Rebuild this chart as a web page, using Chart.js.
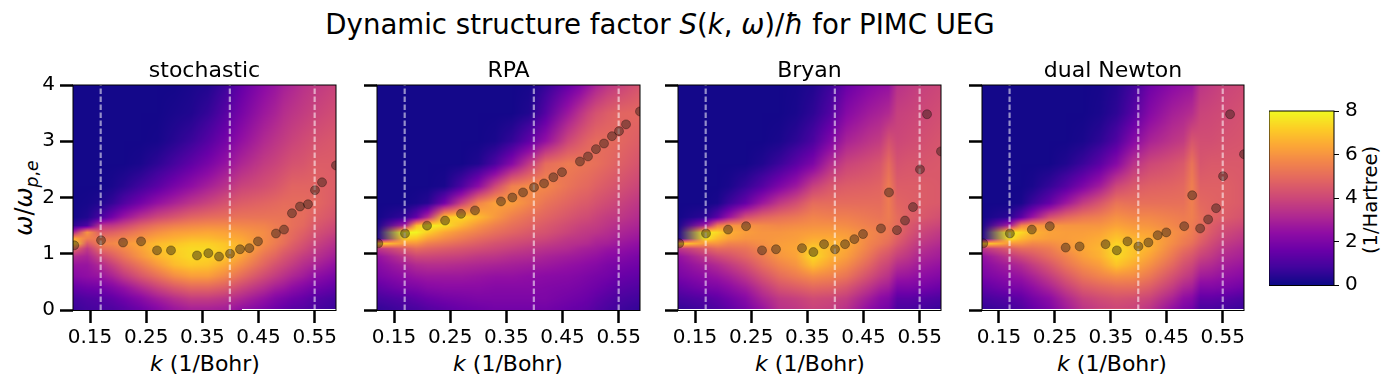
<!DOCTYPE html>
<html>
<head>
<meta charset="utf-8">
<script src="https://cdn.jsdelivr.net/npm/chart.js@4"></script>
<style>
  html, body { margin: 0; padding: 0; background: #fff; }
  body { width: 1391px; height: 386px; position: relative; overflow: hidden; font-family: "DejaVu Sans", sans-serif; color: #000; }
  canvas { position: absolute; }
  .txt { position: absolute; white-space: nowrap; line-height: 1; }
  .rot { transform: translate(-50%, -50%) rotate(-90deg); }
  .mid { transform: translate(-50%, -50%); }
  sub { font-size: 72%; line-height: 0; }
</style>
</head>
<body>
<div class="txt mid" style="left:660px;top:25px;font-size:27.6px">Dynamic structure factor <i>S</i>(<i>k</i>, <i>ω</i>)/<i>ħ</i> for PIMC UEG</div>
<div class="txt rot" style="left:24px;top:198px;font-size:24px"><i>ω</i>/<i>ω</i><sub><i>p</i>,<i>e</i></sub></div>
<div class="txt mid" style="left:205px;top:364px;font-size:22px"><i>k</i> (1/Bohr)</div>
<div class="txt mid" style="left:508px;top:364px;font-size:22px"><i>k</i> (1/Bohr)</div>
<div class="txt mid" style="left:810px;top:364px;font-size:22px"><i>k</i> (1/Bohr)</div>
<div class="txt mid" style="left:1112px;top:364px;font-size:22px"><i>k</i> (1/Bohr)</div>
<div class="txt rot" style="left:1371px;top:200px;font-size:19.5px">(1/Hartree)</div>
<canvas id="c0" width="345" height="327" style="left:0;top:59px"></canvas>
<canvas id="c1" width="345" height="327" style="left:304px;top:59px"></canvas>
<canvas id="c2" width="345" height="327" style="left:605px;top:59px"></canvas>
<canvas id="c3" width="345" height="327" style="left:909px;top:59px"></canvas>
<canvas id="cbar" width="120" height="217" style="left:1269px;top:93px"></canvas>
<script>
const panelTitles = ['stochastic', 'RPA', 'Bryan', 'dual Newton'];
const kTicks = [0.15, 0.25, 0.35, 0.45, 0.55];
const omegaTicks = [0, 1, 2, 3, 4];
const cbarTicks = [0, 2, 4, 6, 8];
const dashedK = [0.169, 0.399, 0.55];

const kPeaks = [0.122, 0.1696, 0.2088, 0.2409, 0.2693, 0.2942, 0.3405, 0.3607, 0.3797, 0.3993, 0.4171, 0.4337, 0.4491, 0.4811, 0.4954, 0.5096, 0.5239, 0.5381, 0.5506, 0.5631, 0.588];
const peakStochastic = [1.15, 1.24, 1.20, 1.22, 1.06, 1.06, 0.97, 1.01, 0.95, 1.00, 1.08, 1.10, 1.22, 1.36, 1.43, 1.72, 1.84, 1.88, 2.13, 2.27, 2.57];
const peakRPA = [1.185, 1.36, 1.50, 1.59, 1.71, 1.77, 1.93, 2.00, 2.09, 2.18, 2.25, 2.36, 2.45, 2.64, 2.73, 2.86, 2.96, 3.09, 3.18, 3.30, 3.53];
const peakBryan = [1.185, 1.36, 1.43, 1.49, 1.06, 1.08, 1.10, 1.03, 1.17, 1.08, 1.17, 1.26, 1.35, 1.45, 2.09, 1.42, 1.59, 1.83, 2.50, 3.48, 2.82];
const peakDual = [1.185, 1.36, 1.43, 1.49, 1.11, 1.13, 1.17, 1.06, 1.22, 1.13, 1.20, 1.33, 1.38, 1.49, 2.04, 1.45, 1.61, 1.81, 2.38, 3.48, 2.77];

// heatmap samples (rows go top to bottom)
const omegaGrid = [4, 3.5, 3, 2.6, 2.2, 1.9, 1.65, 1.5, 1.38, 1.27, 1.18, 1.09, 0.95, 0.8, 0.6, 0.4, 0.2, 0.03, 0];
const kGridWide = [0.12, 0.145, 0.17, 0.19, 0.21, 0.24, 0.27, 0.30, 0.33, 0.36, 0.39, 0.42, 0.46, 0.48, 0.495, 0.51, 0.53, 0.55, 0.59];
const kGrid = [0.12, 0.17, 0.19, 0.21, 0.24, 0.27, 0.30, 0.33, 0.36, 0.39, 0.42, 0.46, 0.48, 0.495, 0.51, 0.53, 0.55, 0.59];
// the image stops a pixel short of the axis from this k on (null: it does not)
const bottomGapFromK = [0.42, null, 0.12, 0.12];

const heatStochastic = [
  [.1,.1,.1,.1,.1,.1,.1,.1,.2,.3,.7,1.5,2.3,2.6,2.9,3.1,3.4,3.6,3.9],
  [.1,.1,.1,.1,.1,.1,.1,.2,.3,.6,1.2,1.9,2.7,3,3.3,3.5,3.7,3.9,4.2],
  [.1,.1,.1,.1,.1,.1,.15,.4,.7,1.2,1.8,2.5,3.2,3.5,3.7,3.9,4.1,4.3,4.5],
  [.1,.1,.1,.1,.1,.2,.5,.9,1.4,1.9,2.5,3.1,3.7,3.9,4.1,4.3,4.4,4.6,4.6],
  [.1,.1,.1,.2,.4,.8,1.3,1.9,2.4,2.9,3.4,3.9,4.2,4.4,4.6,4.8,4.8,4.8,4.6],
  [.1,.15,.3,.6,1.1,1.8,2.5,3,3.5,3.9,4.3,4.6,4.8,4.9,5,5,5,4.9,4.5],
  [.1,.3,1,1.8,2.6,3.4,4,4.4,4.8,5,5.1,5.2,5.2,5.2,5.2,5.1,5,4.7,4.3],
  [.5,1,3.5,3.6,4,4.7,5.2,5.5,5.7,5.8,5.8,5.7,5.6,5.4,5.3,5.1,4.9,4.5,4],
  [3,6,4.5,4.7,5,5.5,5.9,6.2,6.3,6.4,6.3,6.1,5.8,5.5,5.2,5,4.7,4.3,3.8],
  [6.5,5.5,5.3,5.4,5.6,6,6.4,6.6,6.8,6.8,6.6,6.4,5.8,5.5,5.2,4.9,4.5,4.1,3.5],
  [7.5,4.5,5.6,5.7,6,6.4,6.8,7,7.2,7.2,7,6.6,5.8,5.4,5.1,4.7,4.3,3.9,3.3],
  [5,3.6,5,5.3,5.7,6.3,6.9,7.2,7.4,7.4,7.1,6.6,5.6,5.2,4.8,4.5,4.1,3.7,3.1],
  [3.2,3,4,4.6,5.2,6,6.7,7.1,7.4,7.3,7,6.3,5.2,4.8,4.4,4.1,3.7,3.4,2.8],
  [2.6,2.6,3.2,3.8,4.5,5.3,6.1,6.8,7.1,7,6.5,5.8,4.8,4.3,4,3.7,3.3,3,2.4],
  [2.2,2.4,2.6,3,3.6,4.4,5.1,5.8,6.2,6.2,5.7,5,4.1,3.7,3.4,3.1,2.8,2.4,1.9],
  [1.5,1.7,1.8,2.1,2.5,3.2,3.9,4.5,4.9,4.9,4.6,4,3.3,2.9,2.7,2.4,2.1,1.8,1.4],
  [.9,1.1,1.2,1.4,1.7,2.2,2.8,3.3,3.7,3.7,3.5,3.1,2.5,2.1,1.9,1.7,1.5,1.2,.9],
  [.7,.9,1,1.1,1.3,1.7,2.2,2.7,3,3,2.9,2.5,2,1.7,1.5,1.3,1.2,1,.7],
  [.7,.9,1,1.1,1.3,1.7,2.2,2.7,3,3,2.9,2.5,2,1.7,1.5,1.3,1.2,1,.7]
];
const heatRPA = [
  [.1,.1,.1,.1,.1,.1,.1,.1,.1,.15,.6,1.5,2,2.5,3,3.5,3.8,4.4],
  [.1,.1,.1,.1,.1,.1,.1,.1,.1,.3,1.2,2.7,3.4,3.9,4.3,4.6,4.8,4.9],
  [.1,.1,.1,.1,.1,.1,.1,.2,.6,1.4,2.5,4,4.5,4.8,5,5,4.9,4.6],
  [.1,.1,.1,.1,.1,.1,.3,1,2.2,3.6,5,5.4,5.3,5.2,5.1,4.9,4.7,4.3],
  [.1,.1,.1,.1,.2,1,2.3,4,5.5,5.8,5.7,5.2,5,4.9,4.7,4.5,4.3,3.9],
  [.1,.1,.2,.4,1.8,3.8,5.6,6.3,6.2,5.7,5.2,4.8,4.6,4.5,4.3,4.1,3.9,3.5],
  [.1,.6,1.5,3.2,7,7.4,6.8,6.1,5.5,5.1,4.8,4.4,4.2,4.1,3.9,3.7,3.6,3.2],
  [.2,3,6.8,7.9,7.5,6.7,6,5.5,5.1,4.8,4.5,4.1,3.9,3.8,3.7,3.5,3.3,3],
  [.3,8,7.9,7.2,6.4,5.9,5.5,5.1,4.8,4.5,4.3,3.9,3.7,3.6,3.5,3.3,3.1,2.8],
  [.4,7.2,7,6.3,5.8,5.4,5,4.7,4.4,4.2,4,3.6,3.5,3.4,3.2,3.1,2.9,2.6],
  [7.5,6,6,5.5,5.2,4.9,4.6,4.3,4.1,3.9,3.7,3.4,3.3,3.2,3,2.9,2.7,2.4],
  [3.5,4.6,5,4.8,4.6,4.4,4.2,4,3.8,3.6,3.4,3.2,3,2.9,2.8,2.6,2.5,2.2],
  [2.5,3.6,4,4,3.9,3.8,3.6,3.5,3.3,3.2,3,2.8,2.7,2.6,2.5,2.3,2.2,1.9],
  [2.2,2.9,3.2,3.3,3.3,3.2,3.1,3,2.9,2.8,2.7,2.5,2.4,2.3,2.2,2,1.9,1.7],
  [1.9,2.4,2.6,2.7,2.7,2.7,2.6,2.5,2.5,2.4,2.3,2.2,2.1,2,1.9,1.8,1.6,1.4],
  [1.4,1.9,2,2.2,2.3,2.3,2.3,2.2,2.2,2.2,2.1,2,1.9,1.8,1.7,1.5,1.3,1.1],
  [.9,1.2,1.4,1.6,1.8,1.9,2,2,2,2,2,1.8,1.7,1.6,1.4,1.2,1,.8],
  [.6,.9,1,1.2,1.4,1.6,1.7,1.8,1.8,1.8,1.8,1.6,1.5,1.4,1.2,1,.8,.6],
  [.6,.9,1,1.2,1.4,1.6,1.7,1.8,1.8,1.8,1.8,1.6,1.5,1.4,1.2,1,.8,.6]
];
const heatBryan = [
  [.1,.1,.1,.1,.1,.1,.1,.15,.3,.7,1.6,2.2,2.4,2.5,3.4,3.6,3.8,4],
  [.1,.1,.1,.1,.1,.1,.1,.2,.5,1.1,2.2,2.8,3,3.2,3.8,3.9,4,4.2],
  [.1,.1,.1,.1,.1,.1,.2,.5,1,2,3,3.5,3.7,4.3,4,4.1,4.2,4.4],
  [.1,.1,.1,.1,.1,.3,.7,1.3,2,3.2,3.9,4.2,4.4,5,4.3,4.4,4.4,4.5],
  [.1,.1,.1,.2,.6,1.2,2,2.7,3.8,4.4,4.6,4.7,4.8,5.4,4.6,4.6,4.6,4.5],
  [.1,.1,.2,.7,1.5,2.7,3.6,4.2,5,5,5,5,5,5.4,4.8,4.7,4.6,4.5],
  [.1,.5,1.3,2.6,4.2,4.8,5.1,5.3,5.6,5.5,5.5,5.3,5.2,5.4,5,4.7,4.5,4.2],
  [.2,3,5.4,6,6,5.8,5.7,5.8,5.9,5.9,5.8,5.5,5.4,5.3,5,4.5,4.2,3.9],
  [.3,7.8,7.4,6.6,6.2,6,6,6.1,6.2,6.2,6.1,5.7,5.5,5.3,4.9,4.4,4,3.6],
  [.4,7.6,6.8,6.3,6,6,6.1,6.2,6.5,6.5,6.3,5.7,5.4,5.2,4.7,4.2,3.8,3.4],
  [7.5,6,6,5.6,5.6,5.9,6.2,6.3,6.8,6.7,6.5,5.6,5.3,5,4.5,4,3.6,3.2],
  [3.5,4.6,5,5,5.2,5.7,6.2,6.4,7.2,6.8,6.4,5.5,5,4.7,4.2,3.8,3.4,3],
  [2.5,3.6,4,4.3,4.8,5.4,6,6.3,7.4,6.7,6.2,5.2,4.6,4.3,3.8,3.5,3.1,2.8],
  [2.2,2.9,3.2,3.6,4.2,5,5.6,6,6.9,6.3,5.8,4.8,4.2,3.9,3.3,3.1,2.8,2.5],
  [1.9,2.4,2.6,2.9,3.5,4.3,5,5.4,5.8,5.6,5.2,4.2,3.7,3.4,2.7,2.6,2.4,2.1],
  [1.4,1.9,2,2.3,2.8,3.6,4.3,4.6,4.9,4.8,4.4,3.5,3,2.8,2,2,1.9,1.6],
  [.9,1.2,1.4,1.7,2.2,3,3.6,3.8,4.1,4,3.7,2.8,2.3,2.1,1.3,1.3,1.2,1],
  [.6,.9,1.1,1.4,1.9,2.6,3.4,3.6,3.9,3.8,3.4,2.4,2,1.8,1,1,.9,.7],
  [.6,.9,1.1,1.4,1.9,2.6,3.4,3.6,3.9,3.8,3.4,2.4,2,1.8,1,1,.9,.7]
];
const heatDual = [
  [.1,.1,.1,.1,.1,.1,.1,.15,.35,.8,1.7,2.3,2.5,2.6,3.5,3.7,3.9,4.1],
  [.1,.1,.1,.1,.1,.1,.1,.2,.5,1.2,2.2,2.9,3.1,3.3,3.9,4,4.1,4.3],
  [.1,.1,.1,.1,.1,.1,.2,.5,1.1,2.2,3,3.5,3.7,4.4,4.2,4.2,4.3,4.4],
  [.1,.1,.1,.1,.1,.3,.7,1.3,2.2,3.4,4,4.3,4.5,5.2,4.4,4.5,4.5,4.5],
  [.1,.1,.1,.2,.6,1.2,2,2.8,4,4.5,4.7,4.8,4.9,5.5,4.7,4.7,4.7,4.5],
  [.1,.1,.2,.7,1.5,2.7,3.7,4.4,5.2,5.1,5.1,5.1,5.1,5.5,4.9,4.8,4.7,4.5],
  [.1,.5,1.3,2.6,4.2,4.9,5.3,5.5,5.9,5.7,5.7,5.5,5.4,5.5,5.1,4.8,4.6,4.3],
  [.2,3,5.6,6.1,6.1,6,6,6,6.3,6.1,6,5.7,5.5,5.4,5.1,4.6,4.3,4],
  [.3,7.8,7.4,6.7,6.3,6.2,6.2,6.3,6.7,6.4,6.3,5.9,5.7,5.4,5,4.5,4.1,3.7],
  [.4,7.6,6.8,6.4,6.2,6.2,6.3,6.5,7,6.7,6.5,5.9,5.5,5.3,4.8,4.3,3.9,3.5],
  [7.5,6,6,5.7,5.8,6.1,6.4,6.6,7.3,6.9,6.6,5.8,5.4,5.1,4.6,4.1,3.7,3.3],
  [3.5,4.6,5,5.1,5.4,6,6.4,6.7,7.5,7,6.6,5.6,5.1,4.8,4.3,3.9,3.5,3.1],
  [2.5,3.6,4,4.4,5,5.6,6.2,6.6,7.4,6.9,6.3,5.3,4.7,4.4,3.9,3.6,3.2,2.9],
  [2.2,2.9,3.2,3.7,4.4,5.2,5.8,6.2,7,6.5,5.9,4.9,4.3,4,3.4,3.2,2.9,2.6],
  [1.9,2.4,2.6,3,3.7,4.5,5.2,5.6,5.9,5.8,5.3,4.3,3.8,3.5,2.8,2.7,2.5,2.2],
  [1.4,1.9,2,2.4,3,3.8,4.5,4.8,5,5,4.6,3.7,3.1,2.9,2.1,2.1,2,1.7],
  [.9,1.2,1.4,1.8,2.3,3.1,3.8,4.1,4.3,4.2,3.9,3,2.4,2.2,1.4,1.4,1.3,1],
  [.6,.9,1.1,1.5,2,2.8,3.5,3.8,4,3.9,3.5,2.5,2,1.8,1,1,.9,.7],
  [.6,1.1,1.2,1.6,2.1,2.9,4.2,6.2,6,6.2,4.4,2.6,2.1,1.9,1,1,.9,.7]
];

// matplotlib plasma, every 10%
const plasma = [[13,8,135],[65,4,157],[106,0,168],[143,13,164],[177,42,144],[204,71,120],[225,100,98],[241,131,76],[252,166,54],[252,206,37],[240,249,33]];

function plasmaColor(v) {
  const t = Math.min(Math.max(v / 8, 0), 1) * (plasma.length - 1);
  const i = Math.min(Math.floor(t), plasma.length - 2);
  const f = t - i;
  return [0, 1, 2].map(c => plasma[i][c] + (plasma[i + 1][c] - plasma[i][c]) * f);
}

function findCell(grid, v) {
  // works for rising or falling grids
  const up = grid[1] > grid[0];
  let i = 0;
  while (i < grid.length - 2 && (up ? grid[i + 1] < v : grid[i + 1] > v)) i++;
  const f = (v - grid[i]) / (grid[i + 1] - grid[i]);
  return [i, Math.min(Math.max(f, 0), 1)];
}

// paints the samples through the chart's scales; colours are blended along k, values along omega
function heatPlugin(ks, values, gapFromK) {
  return {
    id: 'heat',
    beforeDatasetsDraw(chart) {
      const a = chart.chartArea;
      const x0 = Math.round(a.left), y0 = Math.round(a.top);
      const w = Math.round(a.right) - x0, h = Math.round(a.bottom) - y0;
      const off = document.createElement('canvas');
      off.width = w; off.height = h;
      const octx = off.getContext('2d');
      const img = octx.createImageData(w, h);
      for (let py = 0; py < h; py++) {
        const [r, fr] = findCell(omegaGrid, chart.scales.y.getValueForPixel(y0 + py + 0.5));
        for (let px = 0; px < w; px++) {
          const k = chart.scales.x.getValueForPixel(x0 + px + 0.5);
          if (py >= h - 1 && gapFromK !== null && k >= gapFromK) continue;
          const [c, fc] = findCell(ks, k);
          const c0 = plasmaColor(values[r][c] + (values[r + 1][c] - values[r][c]) * fr);
          const c1 = plasmaColor(values[r][c + 1] + (values[r + 1][c + 1] - values[r][c + 1]) * fr);
          const o = (py * w + px) * 4;
          for (let n = 0; n < 3; n++) img.data[o + n] = c0[n] + (c1[n] - c0[n]) * fc;
          img.data[o + 3] = 255;
        }
      }
      octx.putImageData(img, 0, 0);
      chart.ctx.drawImage(off, x0, y0);
    }
  };
}

const framePlugin = {
  id: 'frame',
  afterDatasetsDraw(chart) {
    const a = chart.chartArea, ctx = chart.ctx;
    ctx.save();
    ctx.strokeStyle = '#000';
    ctx.lineWidth = 1;
    ctx.strokeRect(a.left, a.top, a.right - a.left, a.bottom - a.top + 0.5);
    ctx.restore();
  }
};

function makePanel(i, ks, values, peaks, areaWidth) {
  const datasets = [{
    data: kPeaks.map((k, n) => ({ x: k, y: peaks[n] })),
    backgroundColor: 'rgba(45,30,20,0.45)',
    borderColor: 'rgba(0,0,0,0.3)',
    borderWidth: 1,
    pointRadius: 4.5,
    showLine: false
  }];
  dashedK.forEach(k => {
    datasets.push({
      data: [{ x: k, y: omegaTicks[0] }, { x: k, y: omegaTicks[4] }],
      showLine: true,
      borderColor: 'rgba(255,255,255,0.55)',
      borderWidth: 2.2,
      borderDash: [5.5, 2.5],
      pointRadius: 0
    });
  });
  new Chart(document.getElementById('c' + i), {
    type: 'scatter',
    data: { datasets },
    plugins: [heatPlugin(ks, values, bottomGapFromK[i]), framePlugin],
    options: {
      responsive: false,
      animation: false,
      events: [],
      devicePixelRatio: 1,
      layout: { autoPadding: false, padding: { left: 0, top: 0, right: 345 - 73 - areaWidth, bottom: 0 } },
      plugins: {
        legend: { display: false },
        tooltip: { enabled: false },
        title: {
          display: true,
          fullSize: false,
          text: panelTitles[i],
          color: '#000',
          font: { family: '"DejaVu Sans"', size: 22, weight: 'normal', lineHeight: 1 },
          padding: { top: 1.5, bottom: 2.5 }
        }
      },
      scales: {
        x: {
          type: 'linear',
          min: 0.1197,
          max: 0.588,
          afterBuildTicks(s) { s.ticks = kTicks.map(v => ({ value: v })); },
          afterFit(s) { s.height = 76; },
          grid: { drawOnChartArea: false, tickLength: 13, tickWidth: 2.5, tickColor: '#000' },
          border: { display: false },
          ticks: {
            color: '#000',
            padding: 3,
            maxRotation: 0,
            autoSkip: false,
            font: { family: '"DejaVu Sans"', size: 20 },
            callback: v => v.toFixed(2)
          }
        },
        y: {
          type: 'linear',
          min: 0,
          max: 4,
          afterBuildTicks(s) { s.ticks = omegaTicks.map(v => ({ value: v })); },
          afterFit(s) { s.width = 73; },
          grid: { drawOnChartArea: false, tickLength: 13, tickWidth: 2.5, tickColor: '#000' },
          border: { display: false },
          ticks: {
            color: '#000',
            padding: 5,
            font: { family: '"DejaVu Sans"', size: 20 },
            callback: v => (i === 0 ? String(v) : '')
          }
        }
      }
    }
  });
}

makePanel(0, kGridWide, heatStochastic, peakStochastic, 263);
makePanel(1, kGrid, heatRPA, peakRPA, 263);
makePanel(2, kGrid, heatBryan, peakBryan, 263);
makePanel(3, kGrid, heatDual, peakDual, 262);

// colour bar
new Chart(document.getElementById('cbar'), {
  type: 'scatter',
  data: { datasets: [] },
  plugins: [{
    id: 'cbarFill',
    beforeDatasetsDraw(chart) {
      const a = chart.chartArea, ctx = chart.ctx;
      for (let py = Math.round(a.top); py < Math.round(a.bottom); py++) {
        const c = plasmaColor(chart.scales.y.getValueForPixel(py + 0.5));
        ctx.fillStyle = 'rgb(' + c.map(Math.round).join(',') + ')';
        ctx.fillRect(a.left, py, a.right - a.left, 1);
      }
    }
  }, framePlugin],
  options: {
    responsive: false,
    animation: false,
    events: [],
    devicePixelRatio: 1,
    layout: { autoPadding: false, padding: { left: 0, top: 3, right: 0, bottom: 25 } },
    plugins: { legend: { display: false }, tooltip: { enabled: false } },
    scales: {
      x: { display: false, min: 0, max: 1, afterFit(s) { s.height = 0; } },
      y: {
        type: 'linear',
        position: 'right',
        min: 0,
        max: 8,
        afterBuildTicks(s) { s.ticks = cbarTicks.map(v => ({ value: v })); },
        afterFit(s) { s.width = 55; },
        grid: { drawOnChartArea: false, tickLength: 5, tickWidth: 1, tickColor: '#000' },
        border: { display: false },
        ticks: { color: '#000', padding: 6, font: { family: '"DejaVu Sans"', size: 20 } }
      }
    }
  }
});
</script>
</body>
</html>
